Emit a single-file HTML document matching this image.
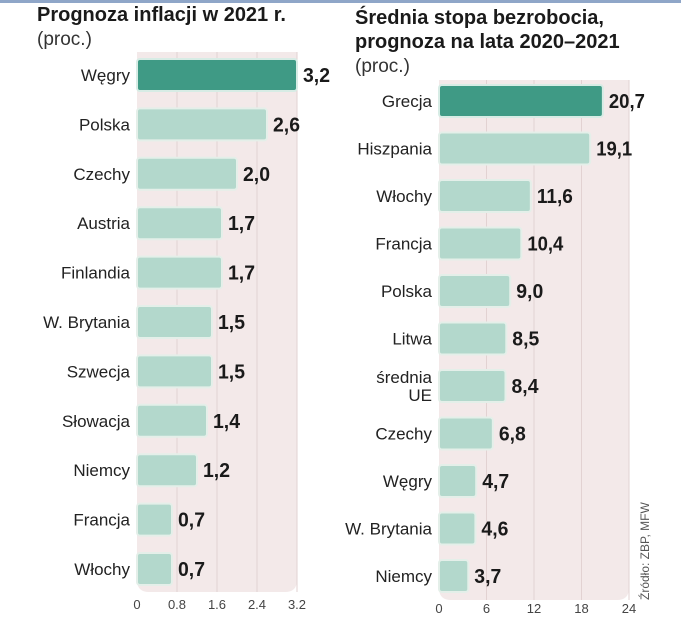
<!DOCTYPE html>
<html><head><meta charset="utf-8"><style>
body{margin:0;background:#fff;width:681px;height:615px;overflow:hidden;font-family:"Liberation Sans",sans-serif}
svg text{font-family:"Liberation Sans",sans-serif}
.val{font-weight:bold;font-size:20px;fill:#1a1a1a}
.cat{font-size:17px;fill:#222}
.tick{font-size:13px;fill:#444}
</style></head><body>
<svg id="c" width="681" height="615">
<rect x="0" y="0" width="681" height="3" fill="#8fa6c8"/>
<text x="37" y="21" font-size="20" font-weight="bold" fill="#1a1a1a">Prognoza inflacji w 2021 r.</text>
<text x="37" y="45" font-size="19" fill="#333">(proc.)</text>
<text x="355" y="24" font-size="20" font-weight="bold" fill="#1a1a1a">Średnia stopa bezrobocia,</text>
<text x="355" y="48" font-size="20" font-weight="bold" fill="#1a1a1a">prognoza na lata 2020–2021</text>
<text x="355" y="72" font-size="19" fill="#333">(proc.)</text>
<text transform="translate(649,600) rotate(-90)" font-size="12" fill="#555">Źródło: ZBP, MFW</text>
<g id="left"></g><g id="right"></g>
</svg>
<script>
const leftCats=["Węgry","Polska","Czechy","Austria","Finlandia","W. Brytania","Szwecja","Słowacja","Niemcy","Francja","Włochy"];
const leftVals=[3.2,2.6,2.0,1.7,1.7,1.5,1.5,1.4,1.2,0.7,0.7];
const leftTicks=[0,0.8,1.6,2.4,3.2];
const rightCats=["Grecja","Hiszpania","Włochy","Francja","Polska","Litwa","średnia UE","Czechy","Węgry","W. Brytania","Niemcy"];
const rightVals=[20.7,19.1,11.6,10.4,9.0,8.5,8.4,6.8,4.7,4.6,3.7];
const rightTicks=[0,6,12,18,24];
const NS="http://www.w3.org/2000/svg";
function mk(p,t,a){const e=document.createElementNS(NS,t);for(const k in a)e.setAttribute(k,a[k]);p.appendChild(e);return e;}
function draw(gid,cats,vals,ticks,o){
 const g=document.getElementById(gid);
 const max=ticks[ticks.length-1];
 const xs=v=>o.x0+v/max*o.w;
 const ys=i=>o.c0+i*o.step;
 const bg=mk(g,'path',{d:`M${o.x0} ${o.top}H${o.x0+o.w}V${o.bot-12}Q${o.x0+o.w} ${o.bot} ${o.x0+o.w-12} ${o.bot}H${o.x0+12}Q${o.x0} ${o.bot} ${o.x0} ${o.bot-12}Z`,fill:'#f3e9e9'});
 
 
 ticks.forEach((t,i)=>{
  if(i>0){const l=mk(g,'line',{x1:xs(t),x2:xs(t),y1:o.top,y2:o.bot,stroke:'#e2d2d2','stroke-width':1});
  
  }
  const tx=mk(g,'text',{x:xs(t),y:o.tickY,'text-anchor':'middle',class:'tick'});tx.textContent=String(t);
  
  
 });
 cats.forEach((c,i)=>{
  const y=ys(i);
  const r=mk(g,'rect',{x:o.x0,y:y-16,width:Math.max(xs(vals[i])-o.x0,1),height:32,rx:3,fill:i==0?'#3f9a85':'#b3d8cc',stroke:i==0?'#d7ece5':'#e4efe9','stroke-width':2});
  
  
  const s=vals[i].toFixed(1).replace('.',',');
  const v=mk(g,'text',{x:xs(vals[i])+6,y:y+7,class:'val',textLength:s.length*9,lengthAdjust:'spacingAndGlyphs'});v.textContent=s;
  
  
  const parts=c==='średnia UE'?['średnia','UE']:[c];
  parts.forEach((p,j)=>{
   const t=mk(g,'text',{x:o.x0-7,y:y+6+(parts.length>1?(j-0.5)*18:0),'text-anchor':'end',class:'cat'});t.textContent=p;
   
   
  });
 });
}
draw('left',leftCats,leftVals,leftTicks,{x0:137,w:160,top:52,bot:592,c0:75,step:49.4,tickY:609});
draw('right',rightCats,rightVals,rightTicks,{x0:439,w:190,top:80,bot:600,c0:101,step:47.5,tickY:613});
</script>
</body></html>
